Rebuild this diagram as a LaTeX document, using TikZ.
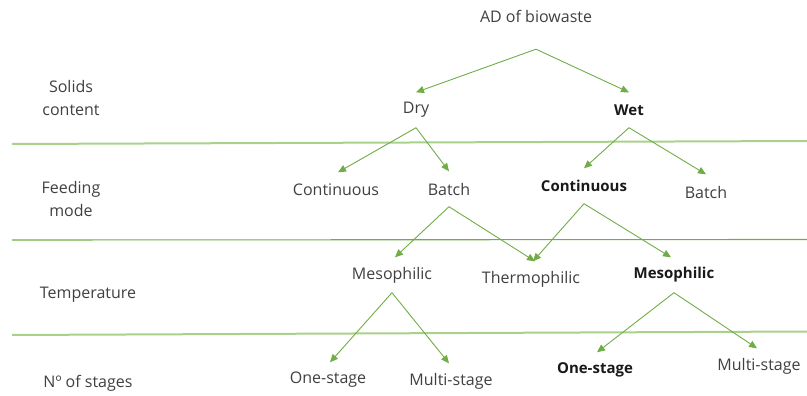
\documentclass[tikz,border=0pt]{standalone}
\usepackage{fontspec}
\setmainfont{Open Sans}
\usetikzlibrary{arrows.meta}
\definecolor{txtgray}{HTML}{404040}
\definecolor{arrgreen}{HTML}{70AD47}
\definecolor{lightgreen}{HTML}{A9D18E}
\tikzset{
  lbl/.style={font=\fontsize{16}{19}\selectfont, text=txtgray, inner sep=0pt, minimum height=35pt, anchor=center},
  blbl/.style={lbl, font=\fontsize{15}{18}\selectfont\bfseries, text=black!90},
  side/.style={font=\fontsize{16}{23}\selectfont, text=txtgray, align=center, inner sep=0pt},
  arr/.style={draw=arrgreen, line width=0.9pt, -{Triangle[length=8pt,width=7pt]}},
  sepl/.style={draw=lightgreen, line width=2pt},
  sepd/.style={draw=arrgreen, line width=1.1pt}
}
\begin{document}
\begin{tikzpicture}[x=1pt,y=-1pt]
\useasboundingbox (0,0) rectangle (807,396);
% separators
\coordinate (s1a) at (12,144); \coordinate (s1b) at (807,141);
\coordinate (s2a) at (12,240); \coordinate (s2b) at (807,239.5);
\coordinate (s3a) at (12,335); \coordinate (s3b) at (807,331.5);
\draw[sepl] (s1a) -- (s1b);
\draw[sepd] (s2a) -- (s2b);
\draw[sepl] (s3a) -- (s3b);
% side labels
\node[side] (solids) at (71,98) {Solids\\content};
\node[side] (feeding) at (71,199) {Feeding\\mode};
\node[side] (temp) at (88,295) {Temperature};
\node[side] (stages) at (88,383) {Nº of stages};
% tree
\node[lbl, minimum height=66pt] (root) at (536,16) {AD of biowaste};
\node[lbl] (dry) at (416,110) {Dry};
\node[blbl] (wet) at (629,110) {Wet};
\node[lbl] (cont1) at (336,190) {Continuous};
\node[lbl] (batch1) at (449,189) {Batch};
\node[blbl] (cont2) at (584,186) {Continuous};
\node[lbl] (batch2) at (706,192) {Batch};
\node[lbl] (meso1) at (392,275) {Mesophilic};
\node[lbl] (thermo) at (531,279) {Thermophilic};
\node[blbl] (meso2) at (674,275) {Mesophilic};
\node[lbl] (one1) at (328,380) {One-stage};
\node[lbl] (multi1) at (451,381) {Multi-stage};
\node[blbl] (one2) at (595,370) {One-stage};
\node[lbl] (multi2) at (759,366) {Multi-stage};
% arrows
\draw[arr] (root.south) -- (dry.north);
\draw[arr] (root.south) -- (wet.north);
\draw[arr] (dry.south) -- ([xshift=2pt]cont1.north);
\draw[arr] (dry.south) -- (batch1.north);
\draw[arr] (wet.south) -- (cont2.north);
\draw[arr] (wet.south) -- (batch2.north);
\draw[arr] (batch1.south) -- ([xshift=3pt]meso1.north);
\draw[arr] (batch1.south) -- ([xshift=4pt]thermo.north);
\draw[arr] (cont2.south) -- ([xshift=2pt]thermo.north);
\draw[arr] (cont2.south) -- ([xshift=-3pt]meso2.north);
\draw[arr] (meso1.south) -- ([xshift=2pt]one1.north);
\draw[arr] (meso1.south) -- ([xshift=-2pt]multi1.north);
\draw[arr] (meso2.south) -- ([xshift=2pt]one2.north);
\draw[arr] (meso2.south) -- ([xshift=-2pt]multi2.north);
\end{tikzpicture}
\end{document}
